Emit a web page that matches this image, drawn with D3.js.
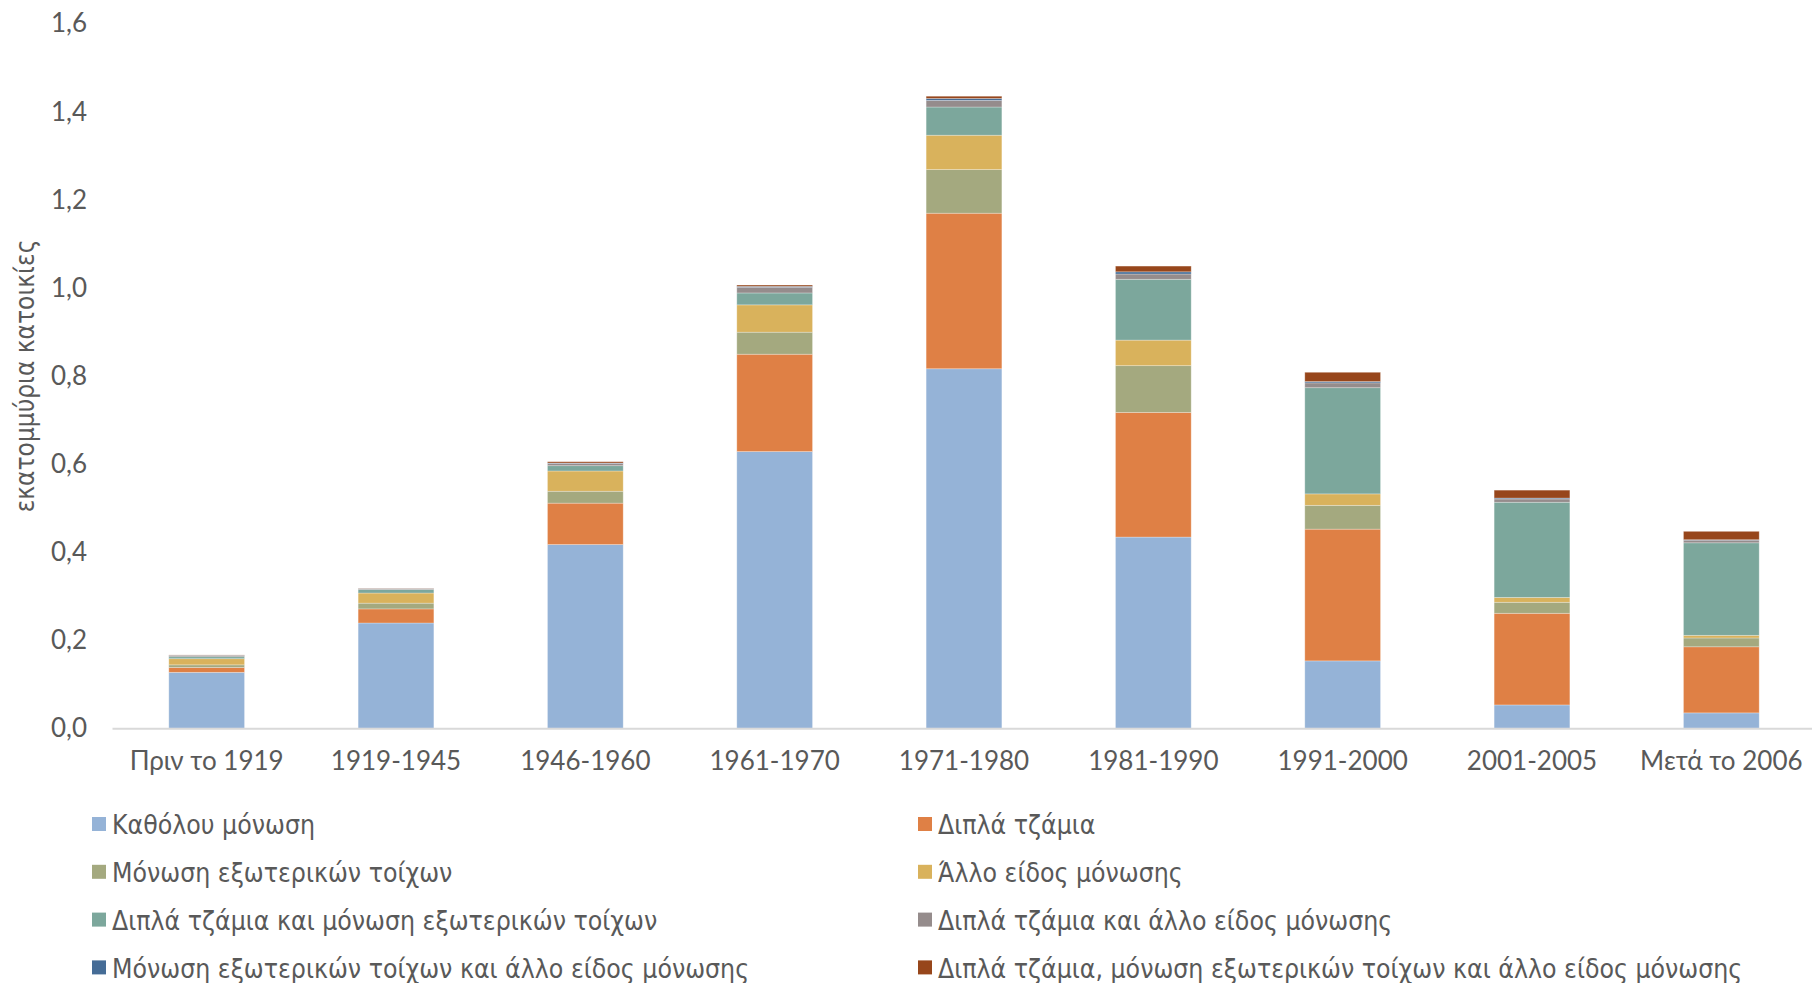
<!DOCTYPE html>
<html>
<head>
<meta charset="utf-8">
<script src="https://cdn.jsdelivr.net/npm/d3@7"></script>
<style>
  body { margin: 0; background: #fff; }
  svg { display: block; }
</style>
</head>
<body>
<svg id="chart"></svg>
<script>
const width = 1812
const height = 983

const periods = ["Πριν το 1919", "1919-1945", "1946-1960", "1961-1970", "1971-1980", "1981-1990", "1991-2000", "2001-2005", "Μετά το 2006"]

const seriesNames = [
    "Καθόλου μόνωση",
    "Διπλά τζάμια",
    "Μόνωση εξωτερικών τοίχων",
    "Άλλο είδος μόνωσης",
    "Διπλά τζάμια και μόνωση εξωτερικών τοίχων",
    "Διπλά τζάμια και άλλο είδος μόνωσης",
    "Μόνωση εξωτερικών τοίχων και άλλο είδος μόνωσης",
    "Διπλά τζάμια, μόνωση εξωτερικών τοίχων και άλλο είδος μόνωσης"
]

// million dwellings, per period
const noInsulation = [0.127, 0.239, 0.417, 0.628, 0.816, 0.434, 0.153, 0.053, 0.035]
const doubleGlazing = [0.011, 0.032, 0.094, 0.221, 0.353, 0.283, 0.299, 0.208, 0.150]
const wallInsulation = [0.006, 0.013, 0.027, 0.050, 0.099, 0.106, 0.054, 0.025, 0.020]
const otherInsulation = [0.014, 0.023, 0.046, 0.062, 0.078, 0.058, 0.026, 0.011, 0.006]
const glazingAndWall = [0.0045, 0.008, 0.012, 0.027, 0.064, 0.138, 0.241, 0.216, 0.210]
const glazingAndOther = [0.003, 0.002, 0.005, 0.013, 0.015, 0.012, 0.011, 0.0075, 0.006]
const wallAndOther = [0.0005, 0.0005, 0.001, 0.002, 0.0045, 0.005, 0.003, 0.002, 0.001]
const allThree = [0.0005, 0.0005, 0.003, 0.003, 0.005, 0.013, 0.021, 0.018, 0.019]

const yTicks = [0, 0.2, 0.4, 0.6, 0.8, 1.0, 1.2, 1.4, 1.6]

const colors = ["#95B3D7", "#DF8045", "#A4A97F", "#D9B25C", "#7CA79C", "#958C8C", "#456C96", "#97461B"]

const allSeries = [noInsulation, doubleGlazing, wallInsulation, otherInsulation, glazingAndWall, glazingAndOther, wallAndOther, allThree]

const rows = periods.map((p, i) => {
    const row = { period: p }
    seriesNames.forEach((name, j) => { row[name] = allSeries[j][i] })
    return row
})

const stacked = d3.stack().keys(seriesNames)(rows)

const svg = d3.select("#chart").attr("width", width).attr("height", height)

const x = d3.scaleBand()
    .domain(periods)
    .range([112, 1816])
    .paddingInner(0.6)
    .paddingOuter(0.3)

const y = d3.scaleLinear()
    .domain([0, 1.6])
    .range([728.3, 23.3])

const fmt = d => d3.format(".1f")(d).replace(".", ",")

// y tick labels (no axis line in the original)
svg.append("g")
    .selectAll("text")
    .data(yTicks)
    .join("text")
    .attr("x", 87)
    .attr("y", d => y(d))
    .attr("dy", "0.35em")
    .attr("text-anchor", "end")
    .attr("fill", "#595959")
    .style("font-family", "Lato, 'Open Sans', sans-serif")
    .style("font-size", "26px")
    .text(fmt)

svg.append("text")
    .attr("transform", "translate(25,376) rotate(-90)")
    .attr("text-anchor", "middle")
    .attr("dy", "0.35em")
    .attr("fill", "#595959")
    .style("font-family", "'DejaVu Sans', sans-serif")
    .style("font-stretch", "condensed")
    .style("font-size", "26px")
    .text("εκατομμύρια κατοικίες")

// bars
svg.append("g")
    .selectAll("g")
    .data(stacked)
    .join("g")
    .attr("fill", (d, i) => colors[i])
    .selectAll("rect")
    .data(d => d)
    .join("rect")
    .attr("x", d => x(d.data.period))
    .attr("width", x.bandwidth())
    .attr("y", d => y(d[1]))
    .attr("height", d => y(d[0]) - y(d[1]))
    .attr("stroke", "#fff")
    .attr("stroke-opacity", 0.35)
    .attr("stroke-width", 0.8)

// x axis
const xAxis = svg.append("g")
    .attr("transform", "translate(0,728.3)")
    .call(d3.axisBottom(x).tickSize(0).tickPadding(23))

xAxis.select(".domain").attr("stroke", "#D9D9D9").attr("stroke-width", 2)
xAxis.selectAll("text")
    .attr("fill", "#595959")
    .style("font-family", "Lato, 'Open Sans', sans-serif")
    .style("font-size", "26px")

// legend, two columns
const legend = svg.append("g")
    .selectAll("g")
    .data(seriesNames)
    .join("g")
    .attr("transform", (d, i) => `translate(${i % 2 === 0 ? 92 : 918},${825 + Math.floor(i / 2) * 47.8})`)

legend.append("rect")
    .attr("y", -8)
    .attr("width", 14)
    .attr("height", 14)
    .attr("fill", (d, i) => colors[i])

legend.append("text")
    .attr("x", 20)
    .attr("dy", "0.35em")
    .attr("fill", "#595959")
    .style("font-family", "'DejaVu Sans', sans-serif")
    .style("font-stretch", "condensed")
    .style("font-size", "26.4px")
    .text(d => d)
</script>
</body>
</html>
